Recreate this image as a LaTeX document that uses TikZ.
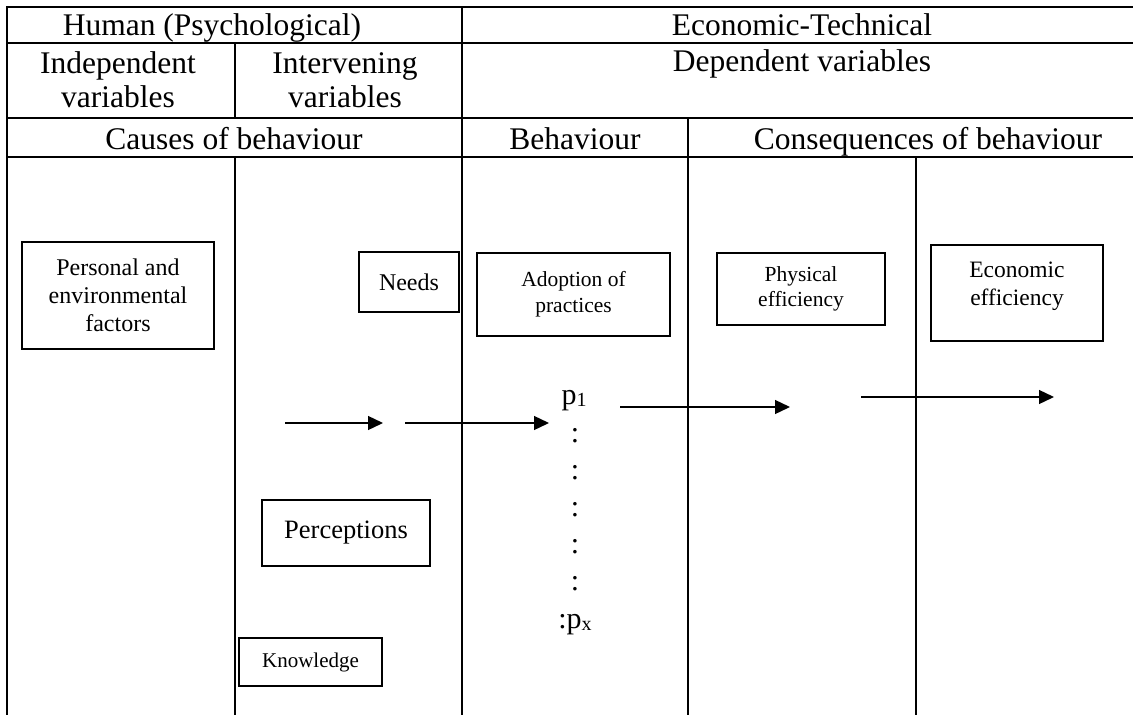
\documentclass[tikz,border=0pt]{standalone}
\usepackage{fontspec}
\setmainfont{Liberation Serif}
\usetikzlibrary{arrows.meta}
\newcommand{\fsz}[2]{\fontsize{#1}{#2}\selectfont}

\begin{document}
\begin{tikzpicture}[
  x=1pt, y=-1pt,
  >={Triangle[length=15pt, width=14pt]},
  rule/.style={line width=2pt, line cap=rect},
  hdr/.style={align=center, font=\fsz{31.5}{34}, inner sep=0pt, anchor=base},
  hdrtwo/.style={hdr, anchor=center},
  varbox/.style={draw, line width=1.5pt, align=center, inner sep=0pt},
  flow/.style={->, line width=1.3pt},
  pmark/.style={font=\fsz{30}{30}, inner sep=0pt},
]

\useasboundingbox (0,0) rectangle (1133,715);

% ---- geometry (table rules, in px) ----
\def\xl{7}     % left border
\def\xa{235}   % independent | intervening
\def\xb{462}   % human | economic-technical
\def\xc{688}   % behaviour | consequences
\def\xd{916}   % physical | economic
\def\xr{1133}  % table runs off the right edge
\def\ya{7}
\def\yb{43}
\def\yc{118}
\def\yd{157}
\def\ye{715}

% =====================================================
% TABLE RULES
% =====================================================
\draw[rule] (\xl,\ya) -- (\xr,\ya);
\draw[rule] (\xl,\yb) -- (\xr,\yb);
\draw[rule] (\xl,\yc) -- (\xr,\yc);
\draw[rule] (\xl,\yd) -- (\xr,\yd);

\draw[rule] (\xl,\ya) -- (\xl,\ye);
\draw[rule] (\xb,\ya) -- (\xb,\ye);
\draw[rule] (\xa,\yb) -- (\xa,\yc);
\draw[rule] (\xa,\yd) -- (\xa,\ye);
\draw[rule] (\xc,\yc) -- (\xc,\ye);
\draw[rule] (\xd,\yd) -- (\xd,\ye);

% =====================================================
% HEADER ROWS (single lines sit on their baselines)
% =====================================================
\node[hdr] (human)  at (212,35)  {Human (Psychological)};
\node[hdr] (econ)   at (802,35)  {Economic-Technical};
\node[hdrtwo] (indep)  at (118,80) {Independent\\variables};
\node[hdrtwo] (interv) at (345,80) {Intervening\\variables};
\node[hdr] (depend) at (802,71)  {Dependent variables};
\node[hdr] (causes) at (234,149) {Causes of behaviour};
\node[hdr] (behav)  at (575,149) {Behaviour};
\node[hdr] (conseq) at (928,149) {Consequences of behaviour};

% =====================================================
% VARIABLE BOXES
% =====================================================
\node[varbox, minimum width=192, minimum height=107, font=\fsz{24}{28}]
  (factors) at (118,295.5) {Personal and\\environmental\\factors};
\node[varbox, minimum width=100, minimum height=60, font=\fsz{24}{28}]
  (needs) at (409,282) {Needs};
\node[varbox, minimum width=168, minimum height=66, font=\fsz{26.5}{30}]
  (percep) at (346,533) {Perceptions};
\node[varbox, minimum width=143, minimum height=48, font=\fsz{21}{25}]
  (knowl) at (310.5,662) {Knowledge};
\node[varbox, minimum width=193, minimum height=83, font=\fsz{21.5}{26}]
  (adopt) at (573.5,294.5) {Adoption of\\practices};
\node[varbox, minimum width=168, minimum height=72, font=\fsz{21.5}{25}]
  (physeff) at (801,289) {Physical\\efficiency};
% text sits high in this box: an empty last line pushes it up
\node[varbox, minimum width=172, minimum height=96, font=\fsz{23.5}{28}]
  (econeff) at (1017,293) {Economic\\efficiency\\[-10pt]\mbox{}};

% =====================================================
% PRACTICES p1 ... px
% =====================================================
\node[pmark] (p1) at (574,401) {p\raisebox{-2pt}{\fsz{20}{20}1}};
\foreach \k in {1,...,5}
  \node[pmark] (dot\k) at (575,{399+37*\k}) {:};
\node[pmark] (px) at (575,625) {:p\raisebox{-2pt}{\fsz{20}{20}x}};

% ---- arrows (free-standing, as in the scheme) ----
\coordinate (a1s) at (285,423);
\coordinate (a1e) at (383,423);
\coordinate (a2s) at (405,423);
\coordinate (a2e) at (549,423);
\coordinate (a3s) at (620,407);
\coordinate (a3e) at (790,407);
\coordinate (a4s) at (861,397);
\coordinate (a4e) at (1054,397);

\draw[flow] (a1s) -- (a1e);
\draw[flow] (a2s) -- (a2e);
\draw[flow] (a3s) -- (a3e);
\draw[flow] (a4s) -- (a4e);

\end{tikzpicture}
\end{document}
